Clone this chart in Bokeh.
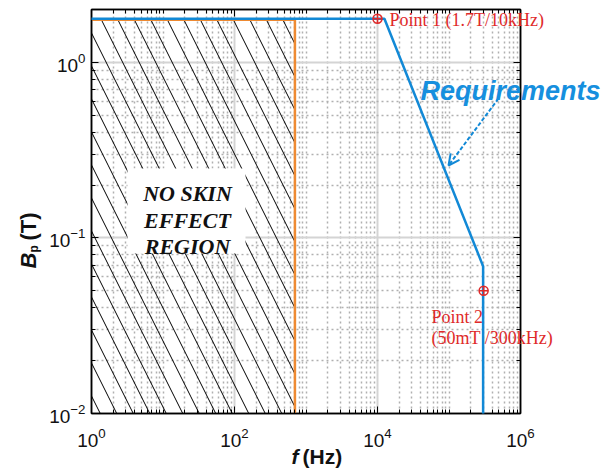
import numpy as np
from bokeh.plotting import figure
from bokeh.models import (LogAxis, FixedTicker, Arrow, OpenHead, Range1d,
                          CustomJSTickFormatter)
from bokeh.core.properties import value
from bokeh.embed import file_html
from bokeh.resources import INLINE

# ---------------- data ----------------
x_lo, x_hi = 1.0, 1e6
y_lo, y_hi = 0.01, 2.0
x_ticks = [1, 1e2, 1e4, 1e6]
y_ticks = [1e-2, 1e-1, 1e0]

# requirement curve (Bp vs f)
req_f = [1, 1.25e4, 3.0e5, 3.0e5]
req_B = [1.77, 1.77, 0.069, 0.01]

# skin-effect boundary
skin_f = [1, 700, 700]
skin_B = [1.75, 1.75, 0.01]
region_f = [1, 700]
region_B = [0.01, 1.75]

# highlighted points
point_f = [1e4, 3.05e5]
point_B = [1.77, 0.05]

# ---------------- layout helpers (page px -> data) ----------------
W, H = 602, 470
BL, BR, BT, BB = 91, 82, 9, 57
FL = BL
FT = BT
FW = W - BL - BR
FH = H - BT - BB


def fx(px):
    lx0, lx1 = np.log10(x_lo), np.log10(x_hi)
    return float(10 ** (lx0 + (px - FL) / FW * (lx1 - lx0)))


def fy(py):
    ly0, ly1 = np.log10(y_lo), np.log10(y_hi)
    return float(10 ** (ly1 - (py - FT) / FH * (ly1 - ly0)))


x_minor = [m * 10 ** k for k in range(0, 6) for m in range(1, 10) if not (m * 10 ** k in x_ticks)]
y_minor = [m * 10.0 ** k for k in (-2, -1, 0) for m in range(2, 10) if m * 10.0 ** k < y_hi - 1e-9]
xt = FixedTicker(ticks=x_ticks, minor_ticks=x_minor)
yt = FixedTicker(ticks=y_ticks, minor_ticks=y_minor)

p = figure(width=W, height=H, x_axis_type="log", y_axis_type="log",
           x_range=Range1d(x_lo, x_hi), y_range=Range1d(y_lo, y_hi),
           output_backend="svg", toolbar_location=None,
           min_border_left=BL, min_border_right=BR, min_border_top=BT, min_border_bottom=BB)
p.background_fill_color = "white"
p.border_fill_color = "white"
p.outline_line_color = "black"
p.outline_line_width = 1.5

TICK_FONT = "Liberation Sans"
for ax in (p.xaxis[0], p.yaxis[0]):
    ax.axis_line_color = "black"
    ax.axis_line_width = 1.5
    ax.major_tick_in = 7
    ax.major_tick_out = 0
    ax.minor_tick_in = 4
    ax.minor_tick_out = 0
    ax.major_tick_line_color = "black"
    ax.minor_tick_line_color = "black"
    ax.major_label_text_font = TICK_FONT
    ax.major_label_text_font_size = "19px"
    ax.major_label_text_color = "#111111"
p.xaxis[0].ticker = xt
p.yaxis[0].ticker = yt
p.xaxis[0].major_label_standoff = 14
p.yaxis[0].major_label_standoff = 6

blank = CustomJSTickFormatter(code="return ''")
for loc, tk in (("above", xt), ("right", yt)):
    ax = LogAxis(ticker=tk, formatter=blank, major_label_text_font_size="1px",
                 major_label_standoff=0,
                 major_tick_in=7, major_tick_out=0, minor_tick_in=4, minor_tick_out=0,
                 axis_line_color="black", axis_line_width=1.5)
    p.add_layout(ax, loc)

for g, tk in ((p.xgrid[0], xt), (p.ygrid[0], yt)):
    g.ticker = tk
    g.grid_line_color = "#d4d4d4"
    g.grid_line_width = 2
    g.minor_grid_line_color = "#b0b0b0"
    g.minor_grid_line_width = 1.5
    g.minor_grid_line_dash = "2 3"

BLUE = "#1289d6"
ORANGE = "#ee8a32"
RED = "#e02a2a"
INK = "#111111"

# hatched no-skin-effect region
p.quad(left=region_f[0], right=region_f[1], bottom=region_B[0], top=region_B[1],
       fill_color=None, line_color=None, hatch_pattern="\\", hatch_color="black",
       hatch_weight=1, hatch_scale=33)

# white text box
p.quad(left=fx(127), right=fx(245), top=fy(168), bottom=fy(253),
       fill_color="white", line_color=None)
p.text(x=[fx(187)] * 3, y=[fy(193), fy(220), fy(246)],
       text=["NO SKIN", "EFFECT", "REGION"], text_align="center",
       text_baseline="alphabetic", text_font=value("Liberation Serif"),
       text_font_style="bold italic", text_font_size="22px", text_color=INK)


def txt(px, py, s, font, size, color, style="normal", align="left",
        baseline="alphabetic", angle=0.0):
    p.text(x=[fx(px)], y=[fy(py)], text=[s], text_align=align, text_baseline=baseline,
           text_font=value(font), text_font_style=style, text_font_size=size,
           text_color=color, angle=angle, level="overlay")


# point labels
txt(389, 19, "Point 1 (1.7T/10kHz)", "Liberation Serif", "18px", RED, baseline="middle")
txt(431, 316, "Point 2", "Liberation Serif", "18px", RED, baseline="middle")
txt(431, 337, "(50mT /300kHz)", "Liberation Serif", "18px", RED, baseline="middle")

# curves
p.line(skin_f, skin_B, line_color=ORANGE, line_width=2.5)
p.line(req_f, req_B, line_color=BLUE, line_width=2.5, level="overlay")
p.scatter(point_f, point_B, marker="circle_cross", size=9, fill_color=None,
          line_color=RED, line_width=1.5, level="overlay")

# Requirements annotation
txt(420, 90, "Requirements", "Liberation Sans", "27px", "#168fde", style="bold italic")
p.add_layout(Arrow(end=OpenHead(size=11, line_color=BLUE, line_width=2),
                   x_start=fx(498), y_start=fy(98), x_end=fx(448), y_end=fy(165),
                   line_color=BLUE, line_width=2, line_dash="4 2"))

# axis titles (built from pieces)
txt(291, 456, "f", "Liberation Sans", "21px", INK, style="bold italic")
txt(302, 456, "(Hz)", "Liberation Sans", "21px", INK, style="bold")

ang = float(np.pi / 2)
txt(28, 268, "B", "Liberation Sans", "22px", INK, style="bold italic", angle=ang)
txt(33, 252, "p", "Liberation Sans", "12px", INK, style="bold", angle=ang)
txt(28, 240, "(T)", "Liberation Sans", "22px", INK, style="bold", angle=ang)

open("out.html", "w").write(file_html(p, INLINE))
